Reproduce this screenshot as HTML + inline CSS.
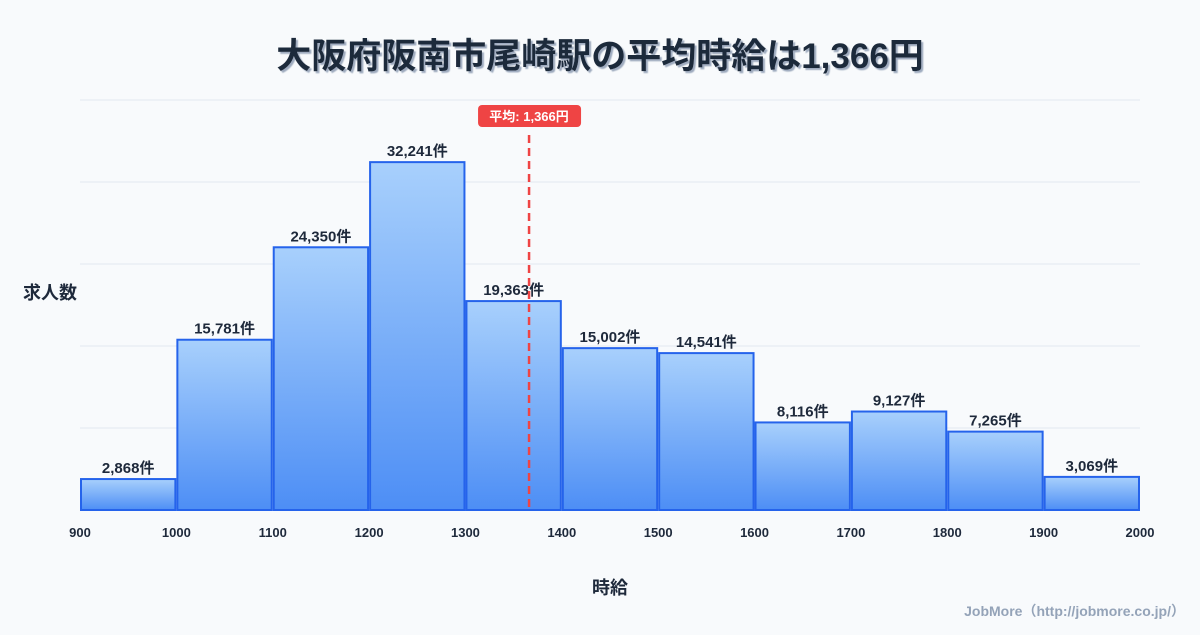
<!DOCTYPE html>
<html><head><meta charset="utf-8">
<style>
body{margin:0;background:#f8fafc;font-family:"Liberation Sans","Noto Sans CJK JP",sans-serif;}
svg text{font-family:"Liberation Sans","Noto Sans CJK JP",sans-serif;}
</style></head>
<body>
<svg id="c" width="1200" height="630" xmlns="http://www.w3.org/2000/svg">
<defs>
<linearGradient id="g" x1="0" y1="0" x2="0" y2="1">
<stop offset="0" stop-color="#a8d0fc"/><stop offset="1" stop-color="#4d8ef5"/>
</linearGradient>
<filter id="sh"><feDropShadow dx="2" dy="2" stdDeviation="0.5" flood-color="#94a3b8" flood-opacity="0.9"/></filter>
</defs>
<rect width="1200" height="630" fill="#f8fafc"/>
<text x="600" y="68" text-anchor="middle" font-size="35" font-weight="bold" fill="#1e293b" filter="url(#sh)">大阪府阪南市尾崎駅の平均時給は1,366円</text>
<g id="grid"></g>
<g id="bars"></g>
<g id="xt"></g>
<text x="50" y="299" text-anchor="middle" font-size="18" font-weight="bold" fill="#1e293b">求人数</text>
<text x="610" y="594" text-anchor="middle" font-size="18" font-weight="bold" fill="#1e293b">時給</text>
<text x="1185" y="616" text-anchor="end" font-size="14" font-weight="bold" fill="#94a3b8">JobMore（http://jobmore.co.jp/）</text>
<g id="mean"></g>
</svg>
<script>
const binStarts=[900,1000,1100,1200,1300,1400,1500,1600,1700,1800,1900];
const counts=[2868,15781,24350,32241,19363,15002,14541,8116,9127,7265,3069];
const xTicks=[900,1000,1100,1200,1300,1400,1500,1600,1700,1800,1900,2000];
const meanValue=1366;
const NS="http://www.w3.org/2000/svg";
const x=v=>80+(v-900)*1060/1100;
const y=v=>510-v*410/38000;
function mk(t,a,p){const e=document.createElementNS(NS,t);for(const k in a)e.setAttribute(k,a[k]);p.appendChild(e);return e;}
const grid=document.getElementById('grid');
for(let i=0;i<=5;i++){const l=mk('line',{x1:80,x2:1140,y1:y(i*7600),y2:y(i*7600),stroke:'#e2e8f0','stroke-width':1},grid);

}
const bars=document.getElementById('bars');
binStarts.forEach((b,i)=>{
const r=mk('rect',{x:x(b)+1,y:y(counts[i]),width:x(b+100)-x(b)-2,height:510-y(counts[i]),fill:'url(#g)',stroke:'#2563eb','stroke-width':2},bars);


const t=mk('text',{x:(x(b)+x(b+100))/2,y:y(counts[i])-6,'text-anchor':'middle','font-size':15,'font-weight':'bold',fill:'#1e293b'},bars);
t.textContent=counts[i].toLocaleString('en-US')+'件';


});
const xt=document.getElementById('xt');
xTicks.forEach(v=>{const t=mk('text',{x:x(v),y:537,'text-anchor':'middle','font-size':13,'font-weight':'bold',fill:'#1e293b'},xt);
t.textContent=v;

});
const m=document.getElementById('mean');
const mx=x(meanValue);
const ml=mk('line',{x1:mx,x2:mx,y1:135,y2:510,stroke:'#ef4444','stroke-width':2.5,'stroke-dasharray':'8,5'},m);


const mb=mk('rect',{x:mx-51,y:105,width:103,height:22,rx:4,fill:'#ef4444'},m);


const mt=mk('text',{x:mx,y:121,'text-anchor':'middle','font-size':13,'font-weight':'bold',fill:'#fff'},m);
mt.textContent='平均: '+meanValue.toLocaleString('en-US')+'円';


</script>
</body></html>
